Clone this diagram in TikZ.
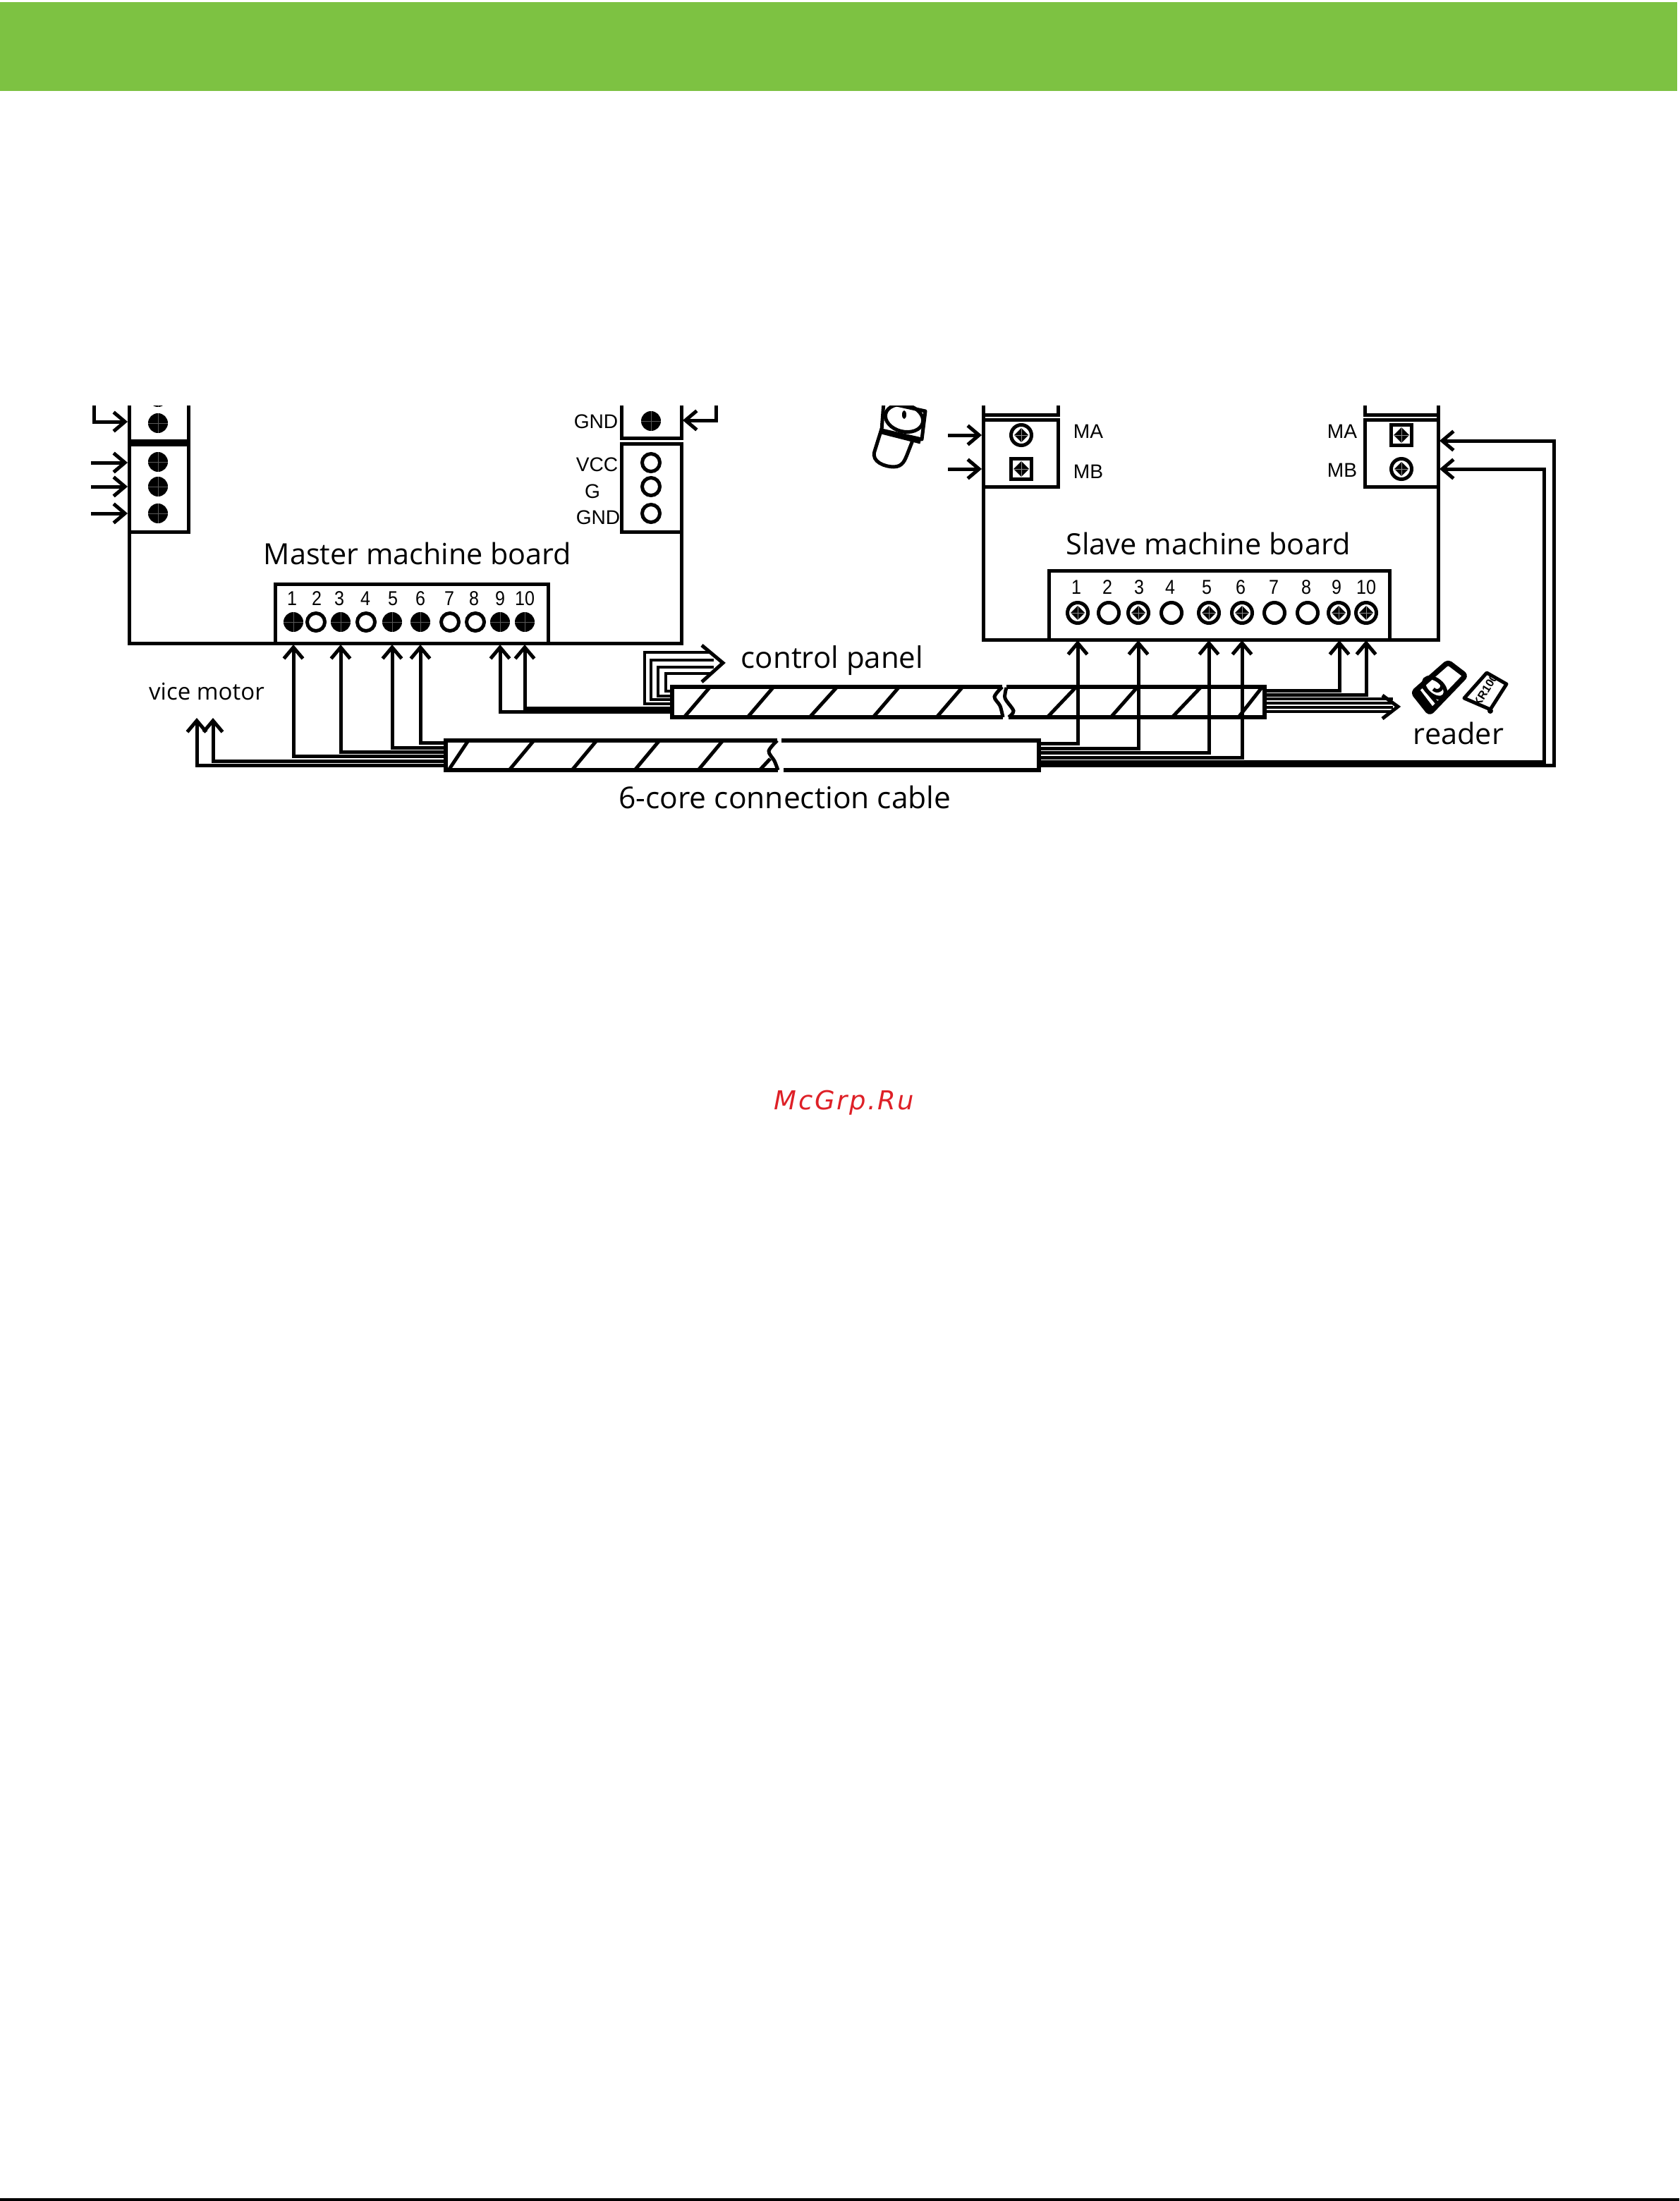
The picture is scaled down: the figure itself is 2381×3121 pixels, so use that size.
\documentclass[tikz,border=0pt]{standalone}
\usepackage{fontspec}
\setmainfont{Open Sans}
\newfontfamily\arialfont{Liberation Sans}
\newfontfamily\numfont[FakeStretch=.88]{Liberation Sans}
\newfontfamily\markfont[LetterSpace=7]{DejaVu Sans}
\usetikzlibrary{arrows.meta}
\definecolor{barcolor}{HTML}{7DC242}
\definecolor{markcolor}{HTML}{DE2027}
\tikzset{
  lw/.style={line width=.05cm},
  thick cable/.style={line width=.06cm},
  wire/.style={line width=.042cm},
  arr/.style={lw,-{Straight Barb[length=.16cm,width=.27cm,line width=.05cm]}},
  darkpin/.style={circle,fill=black,minimum size=.28cm,inner sep=0pt,
    path picture={\draw[black!65,line width=.005cm] (path picture bounding box.north)--(path picture bounding box.south)
      (path picture bounding box.west)--(path picture bounding box.east);}},
  openpin/.style={circle,draw,lw,fill=white,minimum size=.25cm,inner sep=0pt},
  bigpin/.style={circle,draw,lw,fill=white,minimum size=.29cm,inner sep=0pt,
    path picture={\fill[black] (path picture bounding box.center)+(0,-10)--+(10,0)--+(0,10)--+(-10,0)--cycle;
      \draw[black!45,line width=.008cm] (path picture bounding box.center)+(0,-10)--+(0,10) +(-10,0)--+(10,0);}},
  squarepin/.style={rectangle,draw,lw,fill=white,minimum size=.29cm,inner sep=0pt,
    path picture={\fill[black] (path picture bounding box.center)+(0,-11)--+(11,0)--+(0,11)--+(-11,0)--cycle;
      \draw[black!45,line width=.008cm] (path picture bounding box.center)+(0,-11)--+(0,11) +(-11,0)--+(11,0);}},
  numlab/.style={font=\numfont\fontsize{8.1}{9}\selectfont,inner sep=0pt},
  pinlab/.style={font=\arialfont\fontsize{8}{9}\selectfont,inner sep=0pt},
  boardlab/.style={font=\fontsize{11.8}{13}\selectfont,inner sep=0pt},
}
\begin{document}
\begin{tikzpicture}[x=.01cm,y=-.01cm]
  \useasboundingbox (0,0) rectangle (2381,3121);
  \fill[barcolor] (0,3) rectangle (2378,129);
  \fill (0,3117) rectangle (2381,3121);
  \node[font=\markfont\itshape\fontsize{10.5}{12}\selectfont,text=markcolor,inner sep=0pt] (mark) at (1197,1564) {McGrp.Ru};

  % master board
  \draw[lw] (183,754) -- (183,912) -- (966,912) -- (966,754);
  \draw[lw] (183,575) -- (183,625) -- (267,625) -- (267,575);
  \draw[lw] (183,630) rectangle (267,754);
  \draw[lw] (881,575) -- (881,621) -- (966,621) -- (966,575);
  \draw[lw] (881,629) rectangle (966,754);
  \draw[lw,fill=white] (390,828) rectangle (777,912);
  \begin{scope}
    \clip (150,575) rectangle (300,600);
    \node[darkpin] (mtop) at (224,563) {};
  \end{scope}
  \foreach \n/\y in {a/600,b/655,c/690,d/728}
    \node[darkpin] (l\n) at (224,\y) {};
  \node[darkpin] (gndpin) at (923,597) {};
  \foreach \n/\y in {vcc/656,g/690,gnd/728}
    \node[openpin] (\n pin) at (923,\y) {};
  \node[pinlab,anchor=east] (gndlaba) at (877,598) {GND};
  \node[pinlab,anchor=east] (vcclab) at (877,659) {VCC};
  \node[pinlab] (glab) at (840,697) {G};
  \node[pinlab,anchor=east] (gndlabb) at (880,734) {GND};
  \node[boardlab,font=\fontsize{11.76}{13}\selectfont] (masterlab) at (592,785) {Master machine board};
  \foreach \n/\x/\p in {1/414/416,2/449/448,3/481/483,4/518/519,5/557/556,6/596/596,7/637/638,8/672/674,9/709/709,10/744/744}
    \node[numlab] (mn\n) at (\x,849) {\n};
  \foreach \n/\p in {1/416,3/483,5/556,6/596,9/709,10/744}
    \node[darkpin] (mp\n) at (\p,882) {};
  \foreach \n/\p in {2/448,4/519,7/638,8/674}
    \node[openpin] (mp\n) at (\p,882) {};

  % slave board
  \draw[lw] (1394,575) -- (1394,907) -- (2039,907) -- (2039,575);
  \draw[lw] (1500,575) -- (1500,588) -- (1394,588);
  \draw[lw] (1935,575) -- (1935,588) -- (2039,588);
  \draw[lw] (1394,595) rectangle (1500,690);
  \draw[lw] (1935,595) rectangle (2039,690);
  \draw[lw,fill=white] (1487,809) rectangle (1970,907);
  \node[bigpin] (lma) at (1448,617) {};
  \node[squarepin] (lmb) at (1448,665) {};
  \node[squarepin] (rma) at (1987,617) {};
  \node[bigpin] (rmb) at (1987,665) {};
  \node[pinlab] (lmalab) at (1543,612) {MA};
  \node[pinlab] (lmblab) at (1543,669) {MB};
  \node[pinlab] (rmalab) at (1903,612) {MA};
  \node[pinlab] (rmblab) at (1903,667) {MB};
  \node[boardlab] (slavelab) at (1713,771) {Slave machine board};
  \foreach \n/\x in {1/1526,2/1570,3/1615,4/1659,5/1711,6/1759,7/1806,8/1852,9/1895,10/1937}
    \node[numlab] (sn\n) at (\x,833) {\n};
  \foreach \n/\p in {1/1528,3/1614,5/1714,6/1761,9/1898,10/1937}
    \node[bigpin] (sp\n) at (\p,869) {};
  \foreach \n/\p in {2/1572,4/1661,7/1807,8/1854}
    \node[openpin,minimum size=.29cm] (sp\n) at (\p,869) {};

  % cables
  \draw[thick cable] (1421,974) -- (953,974) -- (953,1017) -- (1422,1017);
  \draw[lw] plot[smooth] coordinates {(1421,974) (1410,988) (1418,1001) (1422,1017)};
  \draw[thick cable] (1427,974) -- (1793,974) -- (1793,1017) -- (1430,1017);
  \draw[lw] plot[smooth] coordinates {(1427,975) (1425,990) (1437,1008) (1430,1017)};
  \foreach \a/\b in {1006/970,1096/1060,1186/1148,1274/1238,1364/1328,1525/1485,1612/1575,1702/1662,1789/1756}
    \draw[lw] (\a,975) -- (\b,1017);
  \draw[thick cable] (1102,1050) -- (632,1050) -- (632,1092) -- (1103,1092);
  \draw[lw] plot[smooth] coordinates {(1102,1050) (1090,1065) (1098,1079) (1103,1092)};
  \draw[thick cable] (1108,1050) -- (1473,1050) -- (1473,1092) -- (1111,1092);
  \foreach \a/\b in {664/636,757/722,846/811,935/900,1025/990}
    \draw[lw] (\a,1050) -- (\b,1092);
  \draw[lw] (1092,1076) -- (1077,1092);

  \node[boardlab,font=\fontsize{11.95}{13}\selectfont] (paneltxt) at (1180,937) {control panel};
  \node[boardlab,font=\fontsize{12.1}{14}\selectfont] (cabletxt) at (1113,1131) {6-core connection cable};
  \node[boardlab] (readertxt) at (2068,1040) {reader};
  \node[font=\fontsize{9.4}{11}\selectfont,inner sep=0pt] (vicetxt) at (293,981) {vice motor};

  % arrows at the boards
  \coordinate (ma) at (133,575);
  \coordinate (mae) at (181,598);
  \draw[arr] (ma) |- (mae);
  \foreach \y in {656,690,728} {
    \coordinate (s\y) at (129,\y);
    \coordinate (e\y) at (181,\y);
    \draw[arr] (s\y) -- (e\y);
  }
  \coordinate (gs) at (1015,575);
  \coordinate (ge) at (968,596);
  \draw[arr] (gs) |- (ge);
  \foreach \y in {617,665} {
    \coordinate (t\y) at (1344,\y);
    \coordinate (u\y) at (1392,\y);
    \draw[arr] (t\y) -- (u\y);
  }

  % 6-core wires, master side
  \foreach \y/\x in {1072/416,1066/483,1060/556,1053/596} {
    \coordinate (a\x) at (632,\y);
    \coordinate (b\x) at (\x,914);
    \draw[arr] (a\x) -| (b\x);
  }
  \foreach \y/\x in {1079/302,1085/279} {
    \coordinate (a\x) at (632,\y);
    \coordinate (b\x) at (\x,1018);
    \draw[arr] (a\x) -| (b\x);
  }
  % 6-core wires, slave side
  \foreach \y/\x in {1054/1528,1061/1614,1067/1714,1074/1761} {
    \coordinate (a\x) at (1473,\y);
    \coordinate (b\x) at (\x,908);
    \draw[arr] (a\x) -| (b\x);
  }
  \coordinate (ra) at (1473,1080);
  \coordinate (rb) at (1473,1085);
  \coordinate (rc) at (2189,1080);
  \coordinate (rd) at (2203,1085);
  \coordinate (re) at (2041,665);
  \coordinate (rf) at (2041,625);
  \draw[arr] (ra) -- (rc) |- (re);
  \draw[arr] (rb) -- (rd) |- (rf);

  % control panel wires
  \foreach \x/\y/\b/\e in {914/925/998/1007,923/936/992/1012,933/946/987/1012,944/955/980/1007} {
    \coordinate (p\x) at (952,\b);
    \coordinate (q\x) at (\e,\y);
    \draw[wire] (p\x) -| (\x,\y) -- (q\x);
  }
  \coordinate (ca) at (995,915);
  \coordinate (cb) at (1025,940);
  \coordinate (cc) at (995,967);
  \draw[lw] (ca) -- (cb) -- (cc);
  \foreach \y/\x in {1004/744,1009/709} {
    \coordinate (a\x) at (953,\y);
    \coordinate (b\x) at (\x,914);
    \draw[arr] (a\x) -| (b\x);
  }
  \foreach \y/\x in {979/1899,985/1937} {
    \coordinate (a\x) at (1793,\y);
    \coordinate (b\x) at (\x,908);
    \draw[arr] (a\x) -| (b\x);
  }
  \foreach \y in {991,997,1003,1009} {
    \coordinate (w\y) at (1793,\y);
    \coordinate (z\y) at (1975,\y);
    \draw[wire] (w\y) -- (z\y);
  }
  \coordinate (da) at (1960,986);
  \coordinate (db) at (1982,1002);
  \coordinate (dc) at (1960,1019);
  \draw[lw] (da) -- (db) -- (dc);

  % mouse
  \begin{scope}
    \clip (1220,575) rectangle (1330,680);
    \draw[lw,line join=round] (1253,570) -- (1250,610) -- (1307,623) -- (1312,583) -- (1253,570);
    \draw[lw] (1282,593) ellipse [x radius=27,y radius=19,rotate=-14];
    \fill (1282,588) ellipse [x radius=3,y radius=6];
    \draw[lw] (1250,608) -- (1240,640) .. controls (1235,655) and (1255,662) .. (1267,662)
      .. controls (1280,662) and (1283,652) .. (1286,645) -- (1295,622);
    \draw[lw] (1250,613) -- (1305,627);
  \end{scope}

  % reader
  \begin{scope}[line join=round]
    \draw[line width=.075cm,fill=white,rounded corners=.04cm] (2053,939) -- (2078,958) -- (2027,1011) -- (2004,982) -- cycle;
    \fill (2004,982) -- (2011,975) -- (2033,1004) -- (2027,1011) -- cycle;
    \draw[lw] (2015,970) -- (2040,1000);
    \draw[line width=.055cm] (2034,975) ellipse [x radius=18,y radius=11,rotate=-40];
    \draw[lw] (2043,968) arc (-40:140:7);
    \draw[lw,fill=white] (2108,954) -- (2136,970) -- (2113,1006) -- (2076,990) -- cycle;
    \node[font=\arialfont\bfseries\fontsize{4.6}{5}\selectfont,rotate=58,inner sep=0pt] (krtxt) at (2106,979) {KR100};
    \fill (2113,1008) circle (4);
  \end{scope}
\end{tikzpicture}
\end{document}
